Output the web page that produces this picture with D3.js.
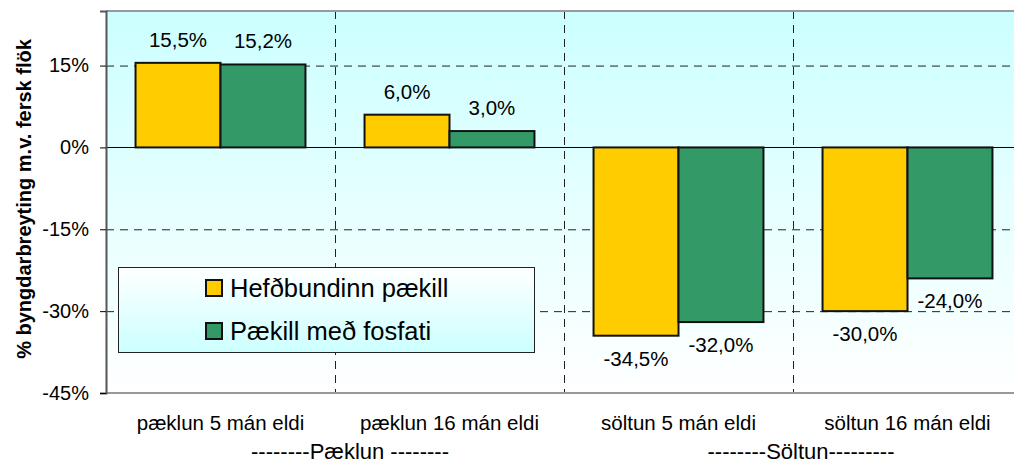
<!DOCTYPE html>
<html>
<head>
<meta charset="utf-8">
<script src="https://cdn.jsdelivr.net/npm/d3@7"></script>
<style>
  body { margin: 0; background: #fff; }
  text { font-family: Arial, "Liberation Sans", sans-serif; fill: #000; }
</style>
</head>
<body>
<div id="chart"></div>
<script>
// data
var categories = ["pæklun 5 mán eldi", "pæklun 16 mán eldi", "söltun 5 mán eldi", "söltun 16 mán eldi"];
var seriesNames = ["Hefðbundinn pækill", "Pækill með fosfati"];
var hefdbundinn = [15.5, 6.0, -34.5, -30.0];
var fosfat = [15.2, 3.0, -32.0, -24.0];
var yTicks = [15, 0, -15, -30, -45];
var groupLabels = ["--------Pæklun --------", "--------Söltun---------"];
var colors = ["#ffcc00", "#339966"];

var W = 1014, H = 467;
var margin = { top: 11, right: -8, bottom: 74, left: 106 };
var width = W - margin.left - margin.right,
  height = H - margin.top - margin.bottom;

var svg = d3.select("#chart").append("svg")
  .attr("width", W).attr("height", H);

var defs = svg.append("defs");
var bg = defs.append("linearGradient").attr("id", "bg")
  .attr("x1", 0).attr("y1", 0).attr("x2", 0).attr("y2", 1);
bg.append("stop").attr("offset", "0%").attr("stop-color", "#ccffff");
bg.append("stop").attr("offset", "100%").attr("stop-color", "#ffffff");
var lg = defs.append("linearGradient").attr("id", "lg")
  .attr("x1", 0).attr("y1", 0).attr("x2", 0).attr("y2", 1);
lg.append("stop").attr("offset", "0%").attr("stop-color", "#ffffff");
lg.append("stop").attr("offset", "100%").attr("stop-color", "#ccffff");

var g = svg.append("g").attr("transform", `translate(${margin.left},${margin.top})`);

var x0 = d3.scaleBand().domain(categories).range([0, width]);
var gap = x0.bandwidth() * 0.129;
var x1 = d3.scaleBand().domain(seriesNames).range([gap, x0.bandwidth() - gap]);
var y = d3.scaleLinear().domain([-45, 25]).range([height, 0]);

// plot background
g.append("rect").attr("width", width).attr("height", height).attr("fill", "url(#bg)");

// horizontal gridlines
g.selectAll(".hgrid").data(yTicks.filter(function (d) { return d !== 0 && d !== -45; }))
  .enter().append("line")
  .attr("x1", 0).attr("x2", width)
  .attr("y1", function (d) { return y(d) + 0.5; }).attr("y2", function (d) { return y(d) + 0.5; })
  .attr("stroke", "#222").attr("stroke-dasharray", "8,6");

// vertical gridlines at category borders
g.selectAll(".vgrid").data(categories.slice(1))
  .enter().append("line")
  .attr("x1", function (d) { return Math.round(x0(d)) + 0.5; })
  .attr("x2", function (d) { return Math.round(x0(d)) + 0.5; })
  .attr("y1", 0).attr("y2", height)
  .attr("stroke", "#222").attr("stroke-dasharray", "8,6");

// frame top / bottom
g.append("line").attr("x1", 0).attr("x2", width).attr("y1", 0).attr("y2", 0)
  .attr("stroke", "#999").attr("stroke-width", 2);
g.append("line").attr("x1", 0).attr("x2", width).attr("y1", height).attr("y2", height)
  .attr("stroke", "#999").attr("stroke-width", 2);

// zero line
g.append("line").attr("x1", 0).attr("x2", width)
  .attr("y1", Math.round(y(0)) + 0.5).attr("y2", Math.round(y(0)) + 0.5)
  .attr("stroke", "#000");

// bars
var rows = categories.map(function (c, i) {
  return { cat: c, vals: [hefdbundinn[i], fosfat[i]] };
});
var grp = g.selectAll(".grp").data(rows).enter().append("g")
  .attr("transform", function (d) { return `translate(${x0(d.cat)},0)`; });

grp.selectAll("rect").data(function (d) {
  return d.vals.map(function (v, j) { return { s: seriesNames[j], v: v, j: j }; });
}).enter().append("rect")
  .attr("x", function (d) { return x1(d.s); })
  .attr("width", x1.bandwidth())
  .attr("y", function (d) { return y(Math.max(0, d.v)); })
  .attr("height", function (d) { return Math.abs(y(d.v) - y(0)); })
  .attr("fill", function (d) { return colors[d.j]; })
  .attr("stroke", "#111").attr("stroke-width", 2);

grp.selectAll("text").data(function (d) {
  return d.vals.map(function (v, j) { return { s: seriesNames[j], v: v }; });
}).enter().append("text")
  .attr("x", function (d) { return x1(d.s) + x1.bandwidth() / 2; })
  .attr("y", function (d) { return d.v >= 0 ? y(d.v) - 16 : y(d.v) + 30; })
  .attr("text-anchor", "middle")
  .style("font-size", "20.5px")
  .text(function (d) { return d.v.toFixed(1).replace(".", ",") + "%"; });

// y axis
var yAxis = g.append("g").call(
  d3.axisLeft(y).tickValues(yTicks).tickSize(6).tickPadding(11)
    .tickFormat(function (d) { return d + "%"; })
);
yAxis.select(".domain").attr("stroke", "#555").attr("stroke-width", 2);
yAxis.selectAll(".tick line").attr("stroke", "#000");
yAxis.selectAll(".tick text")
  .style("font-size", "20px").style("font-family", "Arial, 'Liberation Sans', sans-serif")
  .attr("fill", "#000");

// category labels
g.selectAll(".cat").data(categories).enter().append("text")
  .attr("x", function (d) { return x0(d) + x0.bandwidth() / 2; })
  .attr("y", height + 37)
  .attr("text-anchor", "middle")
  .style("font-size", "20.5px")
  .text(function (d) { return d; });

// group labels
var groupX = [x0(categories[1]) + 15, x0(categories[3]) + 8];
g.selectAll(".grpl").data(groupLabels).enter().append("text")
  .attr("x", function (d, i) { return groupX[i]; })
  .attr("y", height + 66)
  .attr("text-anchor", "middle")
  .style("font-size", "22px")
  .text(function (d) { return d; });

// y title
svg.append("text")
  .attr("transform", "translate(31,199) rotate(-90)")
  .attr("text-anchor", "middle")
  .style("font-size", "20px").style("font-weight", "bold")
  .text("% byngdarbreyting m.v. fersk flök");

// legend
var leg = svg.append("g").attr("transform", "translate(118,267)");
leg.append("rect").attr("x", 0.5).attr("y", 0.5).attr("width", 416).attr("height", 85)
  .attr("fill", "url(#lg)").attr("stroke", "#222");
var li = leg.selectAll(".li").data(seriesNames).enter().append("g")
  .attr("transform", function (d, i) { return `translate(88,${13 + i * 43})`; });
li.append("rect").attr("width", 16).attr("height", 16)
  .attr("fill", function (d, i) { return colors[i]; })
  .attr("stroke", "#111").attr("stroke-width", 2);
li.append("text").attr("x", 24).attr("y", 17)
  .style("font-size", "25.5px")
  .text(function (d) { return d; });
</script>
</body>
</html>
